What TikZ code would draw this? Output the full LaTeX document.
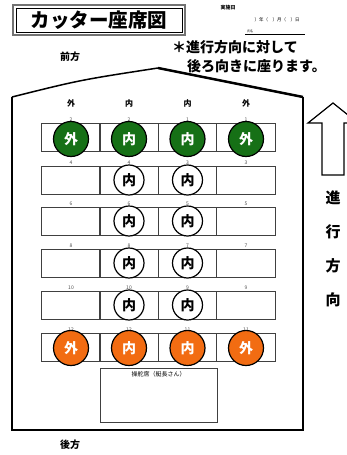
\documentclass[tikz,border=0pt]{standalone}
\usepackage{fontspec}
\newfontfamily\cjk{Noto Sans CJK JP}
\usetikzlibrary{positioning}
\definecolor{oargreen}{RGB}{22,112,22}
\definecolor{oarorange}{RGB}{242,108,18}

\begin{document}
\begin{tikzpicture}[x=1pt,y=-1pt]
        \tikzstyle{every node} = [inner sep=0pt, font=\cjk]
        \tikzset{
          cell/.style={draw=black!75, line width=0.8pt, minimum width=58.3pt, minimum height=28pt},
          seatno/.style={font=\cjk\fontsize{5}{5}\selectfont, text=black!70},
          head/.style={font=\cjk\bfseries\fontsize{8}{8}\selectfont},
          oar/.style={circle, draw, line width=1.2pt, minimum size=35pt, text=white,
                      font=\cjk\bfseries\fontsize{14}{14}\selectfont},
          mid/.style={oar, minimum size=30pt, fill=white, text=black}
        }
        \useasboundingbox (0,0) rectangle (347,455);

        % title and date
        \draw[draw=black!55, line width=2pt] (13,5) rectangle (185,35);
        \draw[line width=0.6pt] (16,8) rectangle (182,32);
        \node[font=\cjk\bfseries\fontsize{19.5}{19.5}\selectfont] (title) at (99,20) {カッター座席図};
        \node[font=\cjk\bfseries\fontsize{5}{5}\selectfont] (day) at (228,8) {実施日};
        \node[font=\cjk\fontsize{4.5}{4.5}\selectfont] (date) at (277,20) {）年（　）月（　）日};
        \node[font=\cjk\fontsize{3}{3}\selectfont] (name) at (250,31) {氏名};
        \draw[line width=0.6pt] (245,34) -- (305,34);

        \node[font=\cjk\bfseries\fontsize{10}{10}\selectfont] (front) at (70,57) {前方};
        \node[font=\cjk\bfseries\fontsize{10}{10}\selectfont] (back) at (70,445) {後方};
        \node[anchor=west, font=\cjk\bfseries\fontsize{14}{14}\selectfont] (note1) at (172,47) {＊進行方向に対して};
        \node[anchor=west, font=\cjk\bfseries\fontsize{14}{14}\selectfont] (note2) at (187,66) {後ろ向きに座ります。};

        % hull
        \draw[line width=1.2pt] (12,97) -- (12,430) -- (303,430) -- (303,97);
        \draw[line width=1.5pt] (12,97) .. controls (80,80) .. (158,68);
        \draw[line width=2.5pt] (158,68) -- (303,97);

        % direction arrow
        \draw[line width=1.2pt] (322,175) -- (322,123) -- (308,123) -- (333,103)
              -- (358,123) -- (344,123) -- (344,175) -- cycle;
        \foreach \ch/\y in {進/198, 行/232, 方/266, 向/300}
            \node[font=\cjk\bfseries\fontsize{15}{15}\selectfont] (dir\y) at (333,\y) {\ch};

        % seats
        \foreach \t/\x in {外/71, 内/129, 内/187.5, 外/246}
            \node[head] (h\x) at (\x,103) {\t};
        \foreach \r/\y in {1/137, 2/180, 3/221, 4/263, 5/305, 6/347} {
            \pgfmathtruncatemacro\left{2*\r}
            \pgfmathtruncatemacro\right{2*\r-1}
            \foreach \c/\x/\n in {1/71/\left, 2/129/\left, 3/187.5/\right, 4/246/\right} {
                \node[cell] (r\r c\c) at (\x,\y) {};
                \node[seatno, above=1pt of r\r c\c] (n\r c\c) {\n};
            }
        }
        \foreach \c/\t in {1/外, 2/内, 3/内, 4/外} {
            \node[oar, fill=oargreen] (g\c) at ([yshift=-2pt]r1c\c) {\t};
            \node[oar, fill=oarorange] (o\c) at ([yshift=-1pt]r6c\c) {\t};
        }
        \foreach \r in {2,...,5}
            \foreach \c in {2,3}
                \node[mid] (m\r\c) at (r\r c\c) {内};

        % helm
        \node[draw=black!75, line width=0.8pt, minimum width=117pt, minimum height=54pt] (helm) at (158.5,395) {};
        \node[font=\cjk\fontsize{6}{6}\selectfont, below=4pt of helm.north] (helmtext) {操舵席（艇長さん）};
      \end{tikzpicture}
\end{document}
